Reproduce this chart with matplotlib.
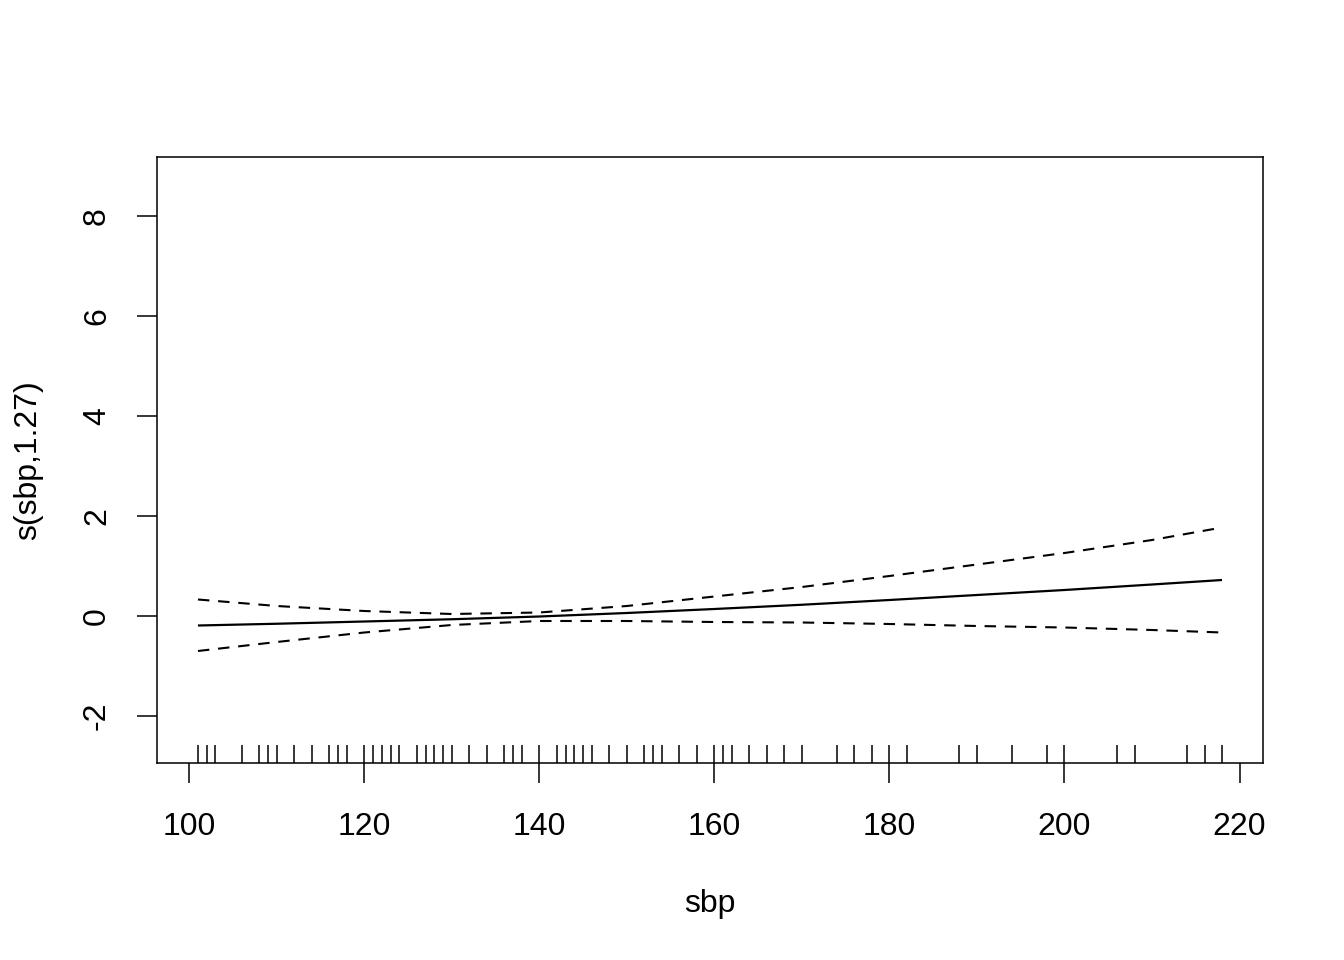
import matplotlib
matplotlib.use("Agg")
from matplotlib import pyplot as plt
import numpy as np

plt.rcParams['font.family'] = ['Liberation Sans', 'DejaVu Sans']

# smooth term estimate and +/- 2 se band
sbp_grid = [101, 110, 120, 130, 140, 150, 160, 170, 180, 190, 200, 210, 218]
fit = [-0.19, -0.155, -0.11, -0.065, -0.01, 0.06, 0.14, 0.225, 0.32, 0.42, 0.52, 0.63, 0.72]
upper = [0.33, 0.20, 0.10, 0.04, 0.07, 0.20, 0.39, 0.58, 0.80, 1.03, 1.26, 1.52, 1.77]
lower = [-0.70, -0.52, -0.33, -0.18, -0.10, -0.10, -0.12, -0.13, -0.16, -0.20, -0.23, -0.28, -0.33]

# observed sbp values (rug)
rug = [101, 102, 103, 106, 108, 109, 110, 112, 114, 116, 117, 118, 120, 121, 122,
       123, 124, 126, 127, 128, 129, 130, 132, 134, 136, 137, 138, 140, 142, 143,
       144, 145, 146, 148, 150, 152, 153, 154, 156, 158, 160, 161, 162, 164, 166,
       168, 170, 174, 176, 178, 180, 182, 188, 190, 194, 198, 200, 206, 208, 214,
       216, 218]

xticks = [100, 120, 140, 160, 180, 200, 220]
yticks = [-2, 0, 2, 4, 6, 8]

fig = plt.figure(figsize=(13.44, 9.6), dpi=100)
ax = fig.add_axes([157 / 1344, 1 - 763 / 960, (1263 - 157) / 1344, (763 - 157) / 960])

ax.plot(sbp_grid, fit, color='black', lw=1.6, solid_capstyle='butt')
for band in (upper, lower):
    ax.plot(sbp_grid, band, color='black', lw=1.5, dashes=(5.5, 4.2))

ax.vlines(rug, 0, 18 / 606, transform=ax.get_xaxis_transform(),
          color='black', lw=1.1)

ax.set_xlim(96.32, 222.68)
ax.set_ylim(-2.94, 9.18)

ax.set_xticks(xticks)
ax.set_yticks(yticks)
ax.set_yticklabels([str(v) for v in yticks], rotation=90, va='center')
ax.tick_params(length=14.4, width=1.1, labelsize=23, direction='out')
ax.tick_params(axis='x', pad=21)
ax.tick_params(axis='y', pad=18)

for s in ax.spines.values():
    s.set_linewidth(1.1)

ax.set_xlabel('sbp', fontsize=23, labelpad=34)
ax.set_ylabel('s(sbp,1.27)', fontsize=23, labelpad=28)

fig.savefig('out.png', dpi=100)
